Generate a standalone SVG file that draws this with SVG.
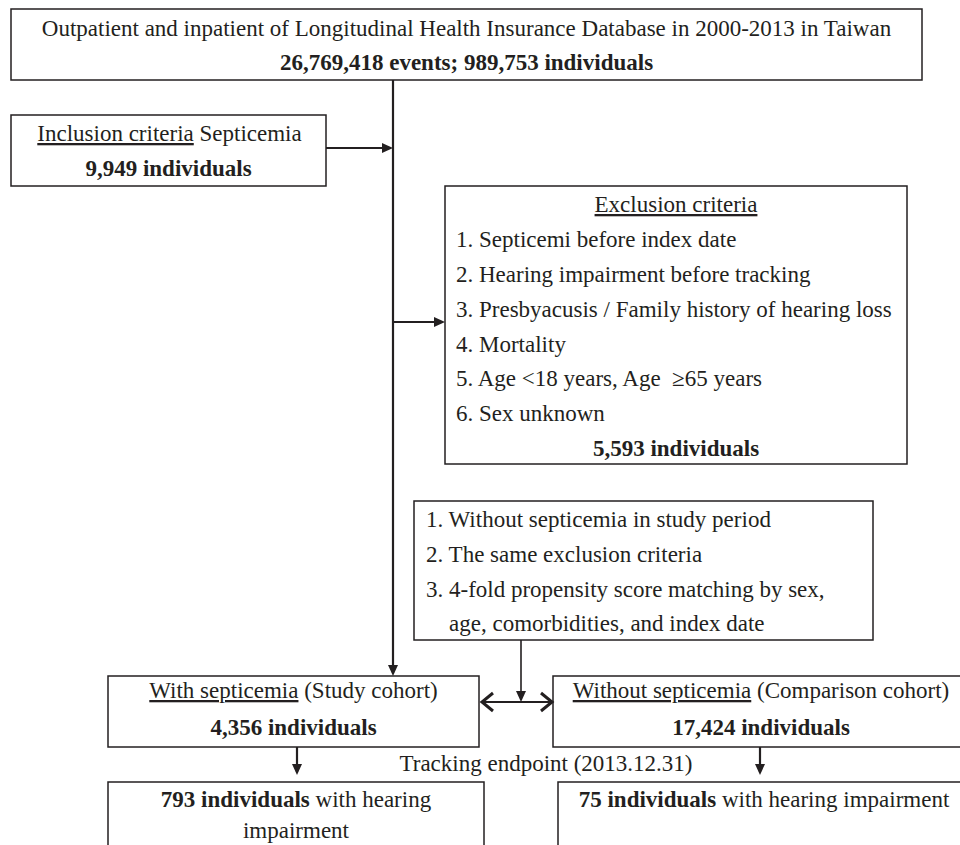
<svg xmlns="http://www.w3.org/2000/svg" width="960" height="845" viewBox="0 0 960 845">
<style>
  .box { fill: #ffffff; stroke: #231f20; stroke-width: 1.5; }
  text { font-family: "Liberation Serif", "Times New Roman", serif; font-size: 23px; fill: #231f20; }
  .c { text-anchor: middle; }
  .b { font-weight: bold; }
  .u { text-decoration: underline; }
  .conn { stroke: #231f20; stroke-width: 2.2; fill: none; }
  .thin { stroke-width: 1.6; }
  .chev { stroke: #231f20; stroke-width: 3; fill: none; stroke-linejoin: miter; }
</style>
<defs>
  <marker id="arrow" markerUnits="userSpaceOnUse" markerWidth="11" markerHeight="10" viewBox="0 0 11 10" refX="8" refY="5" orient="auto">
    <path d="M0,0 L11,5 L0,10 z" fill="#231f20"/>
  </marker>
</defs>
<rect width="960" height="845" fill="#ffffff"/>

<g id="source">
  <rect class="box" x="11" y="9" width="911" height="71"/>
  <text class="c" x="466.5" y="36">Outpatient and inpatient of Longitudinal Health Insurance Database in 2000-2013 in Taiwan</text>
  <text class="c b" x="466.5" y="70">26,769,418 events; 989,753 individuals</text>
</g>

<g id="inclusion">
  <rect class="box" x="11" y="115" width="315" height="71"/>
  <text class="c" x="169.5" y="141"><tspan class="u">Inclusion criteria</tspan> Septicemia</text>
  <text class="c b" x="168.5" y="176">9,949 individuals</text>
</g>

<g id="exclusion">
  <rect class="box" x="445" y="186" width="462" height="278"/>
  <text class="c u" x="676" y="212">Exclusion criteria</text>
  <text x="456" y="247">1. Septicemi before index date</text>
  <text x="456" y="282">2. Hearing impairment before tracking</text>
  <text x="456" y="317">3. Presbyacusis / Family history of hearing loss</text>
  <text x="456" y="351.5">4. Mortality</text>
  <text x="456" y="386">5. Age &lt;18 years, Age &#160;≥65 years</text>
  <text x="456" y="421">6. Sex unknown</text>
  <text class="c b" x="676" y="455.5">5,593 individuals</text>
</g>

<g id="matching">
  <rect class="box" x="414" y="501" width="459" height="139"/>
  <text x="426" y="527">1. Without septicemia in study period</text>
  <text x="426" y="562">2. The same exclusion criteria</text>
  <text x="426" y="597">3. 4-fold propensity score matching by sex,</text>
  <text x="449" y="631">age, comorbidities, and index date</text>
</g>

<g id="study-cohort">
  <rect class="box" x="108" y="676" width="371" height="71"/>
  <text class="c" x="293.5" y="698"><tspan class="u">With septicemia</tspan> (Study cohort)</text>
  <text class="c b" x="293.5" y="735">4,356 individuals</text>
</g>

<g id="comparison-cohort">
  <rect class="box" x="553" y="676" width="420" height="71"/>
  <text class="c" x="761" y="698"><tspan class="u">Without septicemia</tspan> (Comparison cohort)</text>
  <text class="c b" x="761" y="735">17,424 individuals</text>
</g>

<g id="tracking-label">
  <text class="c" x="546" y="771">Tracking endpoint (2013.12.31)</text>
</g>

<g id="study-outcome">
  <rect class="box" x="108" y="782" width="376" height="80"/>
  <text class="c" x="296" y="807"><tspan class="b">793 individuals</tspan> with hearing</text>
  <text class="c" x="296" y="838">impairment</text>
</g>

<g id="comparison-outcome">
  <rect class="box" x="558" y="782" width="420" height="80"/>
  <text class="c" x="764" y="807"><tspan class="b">75 individuals</tspan> with hearing impairment</text>
</g>

<g id="connectors">
  <path class="conn" d="M393,80 V673" marker-end="url(#arrow)"/>
  <path class="conn" d="M326,148 H390" marker-end="url(#arrow)"/>
  <path class="conn" d="M393,322 H442" marker-end="url(#arrow)"/>
  <path class="conn thin" d="M521,640 V699" marker-end="url(#arrow)"/>
  <path class="conn" d="M481,702 H553"/>
  <polyline class="chev" points="493,693 482,702 493,711"/>
  <polyline class="chev" points="541,693 552,702 541,711"/>
  <path class="conn" d="M297,747 V772" marker-end="url(#arrow)"/>
  <path class="conn" d="M760,747 V772" marker-end="url(#arrow)"/>
</g>
</svg>
